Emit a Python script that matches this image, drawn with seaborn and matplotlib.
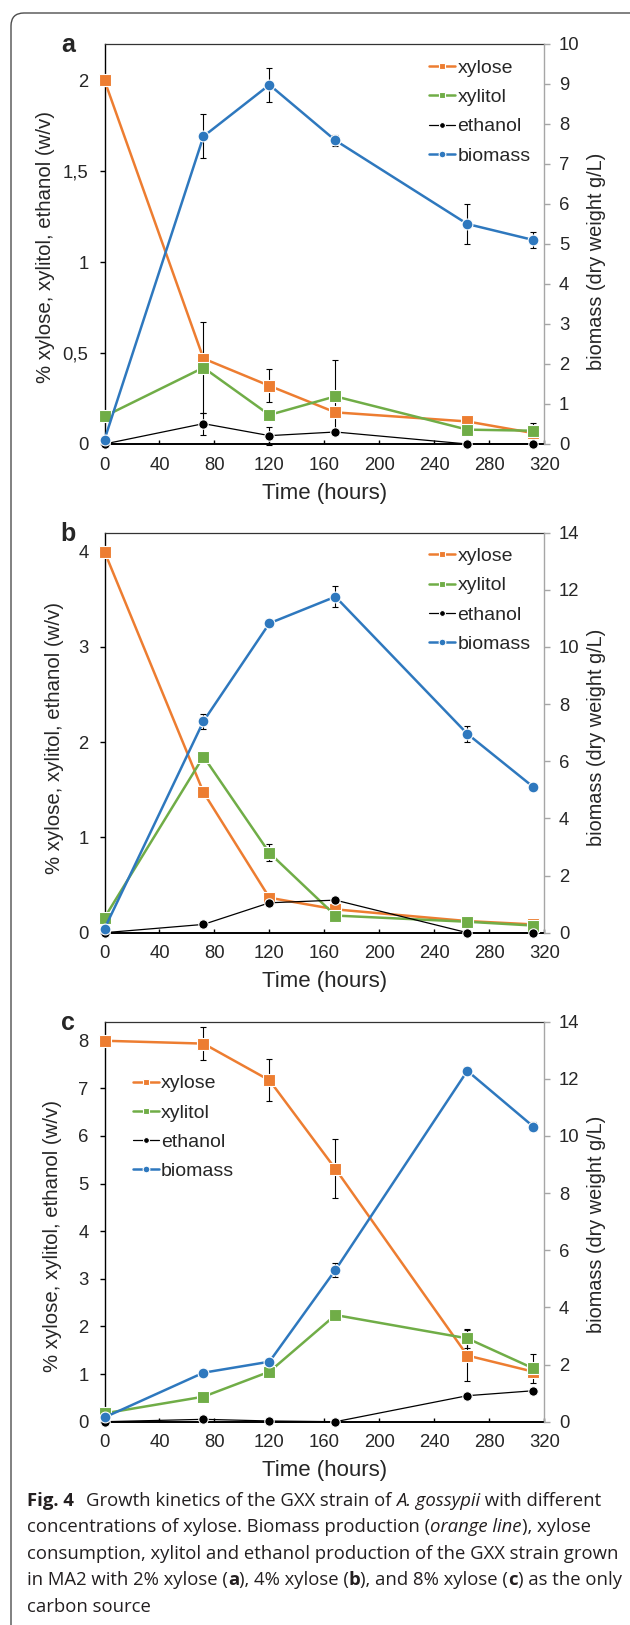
import pandas as pd
import matplotlib.pyplot as plt
import seaborn as sns
from matplotlib.patches import FancyBboxPatch
from matplotlib.ticker import FuncFormatter, MultipleLocator

# tempos de coleta (horas)
horas = [0, 72, 120, 168, 264, 312]
nomes = ['xylose', 'xylitol', 'ethanol', 'biomass']

# painel a: 2% xilose
a_xylose = [2.0, 0.47, 0.32, 0.174, 0.124, 0.06]
a_xylose_err = [0, 0, 0.09, 0, 0, 0]
a_xylitol = [0.152, 0.42, 0.16, 0.262, 0.079, 0.073]
a_xylitol_err = [0, 0.25, 0, 0.2, 0, 0.04]
a_ethanol = [0, 0.112, 0.046, 0.066, 0, 0]
a_ethanol_err = [0, 0.06, 0.05, 0, 0, 0]
a_biomass = [0.11, 7.69, 8.98, 7.59, 5.5, 5.1]
a_biomass_err = [0, 0.55, 0.43, 0.13, 0.5, 0.2]

# painel b: 4% xilose
b_xylose = [4.0, 1.474, 0.367, 0.245, 0.122, 0.087]
b_xylose_err = [0, 0, 0, 0, 0, 0]
b_xylitol = [0.157, 1.85, 0.838, 0.18, 0.115, 0.075]
b_xylitol_err = [0, 0, 0.09, 0, 0, 0]
b_ethanol = [0, 0.087, 0.314, 0.342, 0, 0]
b_ethanol_err = [0, 0, 0, 0, 0, 0]
b_biomass = [0.14, 7.40, 10.83, 11.76, 6.96, 5.1]
b_biomass_err = [0, 0.27, 0.12, 0.37, 0.27, 0]

# painel c: 8% xilose
c_xylose = [8.0, 7.94, 7.17, 5.31, 1.39, 1.05]
c_xylose_err = [0, 0.34, 0.44, 0.62, 0.54, 0]
c_xylitol = [0.175, 0.525, 1.05, 2.24, 1.75, 1.12]
c_xylitol_err = [0, 0, 0, 0, 0.2, 0.3]
c_ethanol = [0, 0.05, 0.015, 0, 0.546, 0.65]
c_ethanol_err = [0, 0, 0, 0, 0, 0]
c_biomass = [0.15, 1.715, 2.1, 5.31, 12.28, 10.33]
c_biomass_err = [0, 0, 0, 0.23, 0.15, 0.15]

legenda_y = '% xylose, xylitol, ethanol (w/v)'
legenda_y2 = 'biomass (dry weight g/L)'
legenda_x = 'Time (hours)'
ticks_x = [0, 40, 80, 120, 160, 200, 240, 280, 320]

legenda_fig = [
    [('Fig. 4', 'bold', 'normal'), (None, 12), ('Growth kinetics of the GXX strain of ', 'normal', 'normal'),
     ('A. gossypii', 'normal', 'italic'), (' with different', 'normal', 'normal')],
    [('concentrations of xylose. Biomass production (', 'normal', 'normal'), ('orange line', 'normal', 'italic'),
     ('), xylose', 'normal', 'normal')],
    [('consumption, xylitol and ethanol production of the GXX strain grown', 'normal', 'normal')],
    [('in MA2 with 2% xylose (', 'normal', 'normal'), ('a', 'bold', 'normal'), ('), 4% xylose (', 'normal', 'normal'),
     ('b', 'bold', 'normal'), ('), and 8% xylose (', 'normal', 'normal'), ('c', 'bold', 'normal'),
     (') as the only', 'normal', 'normal')],
    [('carbon source', 'normal', 'normal')],
]

cores = {'xylose': '#ED7D31', 'xylitol': '#70AD47', 'ethanol': '#000000', 'biomass': '#2E78BE'}
marcadores = {'xylose': 's', 'xylitol': 's', 'ethanol': 'o', 'biomass': 'o'}
tam_marc = {'xylose': 8.0, 'xylitol': 8.0, 'ethanol': 6.8, 'biomass': 7.8}
espessura = {'xylose': 1.8, 'xylitol': 1.8, 'ethanol': 0.9, 'biomass': 1.8}

W, H = 630, 1625

paineis = [
    dict(letra='a', topo=44, dados=[a_xylose, a_xylitol, a_ethanol, a_biomass],
         erros=[a_xylose_err, a_xylitol_err, a_ethanol_err, a_biomass_err],
         ymax=2.2, passo=0.5, ymax2=10, passo2=1, leg=(429, 67.7),
         ylab_x=46, ylab_dy=3, ylab2_dy=17),
    dict(letra='b', topo=532.7, dados=[b_xylose, b_xylitol, b_ethanol, b_biomass],
         erros=[b_xylose_err, b_xylitol_err, b_ethanol_err, b_biomass_err],
         ymax=4.2, passo=1, ymax2=14, passo2=2, leg=(429, 556),
         ylab_x=55, ylab_dy=5, ylab2_dy=5),
    dict(letra='c', topo=1021.7, dados=[c_xylose, c_xylitol, c_ethanol, c_biomass],
         erros=[c_xylose_err, c_xylitol_err, c_ethanol_err, c_biomass_err],
         ymax=8.4, passo=1, ymax2=14, passo2=2, leg=(132.5, 1083.3),
         ylab_x=53, ylab_dy=14, ylab2_dy=3),
]

sns.set_style('white')
plt.rcParams['font.family'] = ['Liberation Sans', 'DejaVu Sans']

fig = plt.figure(figsize=(W / 100, H / 100), dpi=100)

esq, dir_ = 104.5, 544.3
alt = 400
virgula = FuncFormatter(lambda v, p: f'{v:g}'.replace('.', ','))


def desenhar_serie(ax, nome, valores, erros, z):
    df = pd.DataFrame({'Tempo': horas, 'Valor': valores})
    sns.lineplot(data=df, x='Tempo', y='Valor', ax=ax, color=cores[nome], marker=marcadores[nome],
                 markersize=tam_marc[nome], markeredgecolor='white', markeredgewidth=0.8,
                 linewidth=espessura[nome], label=nome, legend=False, clip_on=False, zorder=z)
    xs = [h for h, e in zip(horas, erros) if e > 0]
    ys = [v for v, e in zip(valores, erros) if e > 0]
    es = [e for e in erros if e > 0]
    if xs:
        ax.errorbar(xs, ys, yerr=es, fmt='none', ecolor='black', elinewidth=0.8, capsize=2.4,
                    capthick=0.8, zorder=1.5, clip_on=False, label='_nolegend_')


for p in paineis:
    base = H - p['topo'] - alt
    ax = fig.add_axes([esq / W, base / H, (dir_ - esq) / W, alt / H])
    for i, nome in enumerate(nomes[:3]):
        desenhar_serie(ax, nome, p['dados'][i], p['erros'][i], 3 + 0.1 * i)
    ax2 = ax.twinx()
    desenhar_serie(ax2, 'biomass', p['dados'][3], p['erros'][3], 3)

    ax.set_xlim(0, 320)
    ax.set_ylim(0, p['ymax'])
    ax2.set_ylim(0, p['ymax2'])
    ax.set_xticks(ticks_x)
    ax.yaxis.set_major_locator(MultipleLocator(p['passo']))
    ax2.yaxis.set_major_locator(MultipleLocator(p['passo2']))
    ax.yaxis.set_major_formatter(virgula)
    ax2.yaxis.set_major_formatter(virgula)

    for lado in ['left', 'bottom', 'top']:
        ax.spines[lado].set_visible(True)
    ax.spines['left'].set_color('black')
    ax.spines['left'].set_linewidth(1.0)
    ax.spines['bottom'].set_color('black')
    ax.spines['bottom'].set_linewidth(1.4)
    ax.spines['top'].set_color('#333333')
    ax.spines['top'].set_linewidth(0.9)
    ax.spines['right'].set_visible(False)
    for lado in ['left', 'bottom', 'top']:
        ax2.spines[lado].set_visible(False)
    ax2.spines['right'].set_visible(True)
    ax2.spines['right'].set_color('#a6a6a6')
    ax2.spines['right'].set_linewidth(1.0)

    ax.tick_params(axis='x', direction='in', length=2.9, width=1, color='black', pad=9,
                   labelsize=13.3, bottom=True, top=False)
    ax.tick_params(axis='y', direction='out', length=3.6, width=1, color='black', pad=8,
                   labelsize=13.3, left=True, right=False)
    ax2.tick_params(axis='y', direction='out', length=4, width=1, color='#a6a6a6', pad=6.5,
                    labelsize=13.3, right=True, left=False)

    ax.set_xlabel(legenda_x, fontsize=16, va='center')
    ax.xaxis.set_label_coords(0.5, -49 / alt)
    ax.set_ylabel(legenda_y, fontsize=14.7, va='center')
    ax.yaxis.set_label_coords((p['ylab_x'] - esq) / (dir_ - esq), 0.5 - p['ylab_dy'] / alt)
    ax2.set_ylabel(legenda_y2, fontsize=14.3, va='center', rotation=90)
    ax2.yaxis.set_label_coords((596 - esq) / (dir_ - esq), 0.5 - p['ylab2_dy'] / alt)

    h1, l1 = ax.get_legend_handles_labels()
    h2, l2 = ax2.get_legend_handles_labels()
    lx, ly = p['leg']
    ax2.legend(h1 + h2, l1 + l2, loc='upper left', bbox_to_anchor=(lx / W, 1 - (ly - 8.5) / H),
               bbox_transform=fig.transFigure, frameon=False, fontsize=14, handlelength=1.34,
               handletextpad=0.12, labelspacing=0.6, borderpad=0, borderaxespad=0, markerscale=0.62)

    fig.text(68 / W, 1 - (p['topo'] + 1) / H, p['letra'], fontsize=18, weight='bold',
             ha='center', va='center')

# moldura arredondada da figura
moldura = FancyBboxPatch((0.11, -1), 7, 16.12 + 1, boxstyle='round,pad=0,rounding_size=0.13',
                         transform=fig.dpi_scale_trans, fill=False, ec='#4d4d4d', lw=1.0)
fig.add_artist(moldura)

# legenda da figura com trechos em negrito/italico
renderer = fig.canvas.get_renderer()


def largura(txt, **fonte):
    t = fig.text(0, 0, 'x' + txt + 'x', **fonte)
    w1 = t.get_window_extent(renderer).width
    t.remove()
    t = fig.text(0, 0, 'xx', **fonte)
    w0 = t.get_window_extent(renderer).width
    t.remove()
    return w1 - w0


fonte_cap = dict(family=['Open Sans', 'DejaVu Sans'])
ref = largura(legenda_fig[2][0][0], size=12, **fonte_cap)
tam_cap = 12 * 587 / ref
linhas_base = [1506, 1532.4, 1558.8, 1585.2, 1611.6]
for linha, yb in zip(legenda_fig, linhas_base):
    x = 27
    for trecho in linha:
        if trecho[0] is None:
            x += trecho[1]
            continue
        txt, peso, estilo = trecho
        fonte = dict(size=tam_cap, weight=peso, style=estilo, **fonte_cap)
        fig.text(x / W, 1 - yb / H, txt, ha='left', va='baseline', color='#231f20', **fonte)
        x += largura(txt, **fonte)

fig.savefig('out.png', dpi=100)
